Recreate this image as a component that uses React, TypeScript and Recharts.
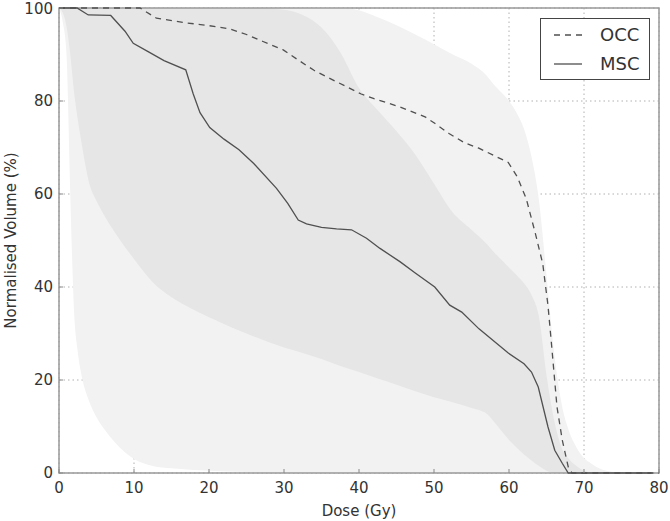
import React from "react";
import {
  ComposedChart,
  Area,
  Line,
  XAxis,
  YAxis,
  CartesianGrid,
  ReferenceArea,
} from "recharts";

// shared dose grid for the shaded envelopes
const bandDose = [0, 0.5, 1, 1.5, 2, 2.5, 3, 4, 5, 6, 7.5, 10, 12.5, 15, 17.5, 20, 25, 30, 32.5, 35, 37.5, 40, 42.5, 45, 47.5, 50, 52.5, 55, 57, 58, 60, 61, 62, 63, 64, 65, 66, 67, 68, 69, 70, 71, 72, 74, 76, 80];
const outerLow = [100, 97, 90, 60, 35, 26, 21, 15.5, 12, 9.5, 6.5, 3, 1.5, 1, 0.7, 0.5, 0.2, 0, 0, 0, 0, 0, 0, 0, 0, 0, 0, 0, 0, 0, 0, 0, 0, 0, 0, 0, 0, 0, 0, 0, 0, 0, 0, 0, 0, 0];
const outerHigh = [100, 100, 100, 100, 100, 100, 100, 100, 100, 100, 100, 100, 100, 100, 100, 100, 100, 100, 100, 100, 100, 99.5, 98, 96.3, 94.3, 92.2, 90, 88, 85.5, 83.5, 80, 77.5, 74, 68, 58.5, 42.5, 26, 15, 9, 5.5, 3.2, 2, 1, 0.2, 0, 0];
const innerLow = [100, 99, 96, 90, 82, 76, 71, 62.5, 58.5, 55.5, 51.6, 46, 41, 37.8, 35.5, 33.5, 30, 27, 25.8, 24.5, 23, 21.7, 20.3, 19, 17.6, 16.3, 15.2, 14, 12.8, 11, 7.1, 5.5, 4, 2.7, 1.5, 0.5, 0, 0, 0, 0, 0, 0, 0, 0, 0, 0];
const innerHigh = [100, 100, 100, 100, 100, 100, 100, 100, 100, 100, 100, 100, 100, 100, 100, 100, 100, 99.6, 98.5, 95.8, 90.5, 82.8, 78, 73.5, 68.5, 62.2, 56, 52.3, 49.3, 47.5, 44.2, 42.6, 40.8, 38.3, 33.5, 21, 11.5, 5.5, 3, 1.5, 0.5, 0.1, 0, 0, 0, 0];

// median curves
const occDose = [0, 10.8, 13, 17, 20, 22.8, 25, 27.2, 29.9, 32, 34, 36.8, 40.3, 42, 45.5, 48.8, 50.1, 52, 54.1, 55.9, 59.9, 61.1, 62.3, 63.5, 64.5, 65.2, 65.7, 66.4, 67.1, 67.9, 68.4, 80];
const occVolume = [100, 100, 97.8, 96.8, 96.2, 95.5, 94.3, 92.8, 91, 88.7, 86.6, 84.3, 81.5, 80.5, 78.7, 76.6, 75.2, 73, 71, 69.9, 66.8, 63.7, 59, 51.6, 45, 36, 27.1, 14.2, 7.1, 1.3, 0, 0];
const mscDose = [0, 2.4, 3.9, 6.9, 8.8, 9.9, 12, 14, 16.9, 17.9, 18.8, 20.1, 22, 24, 26, 29, 30.5, 31.9, 33, 35, 37, 39, 41, 42.8, 45.5, 47.5, 50.1, 52.1, 53.7, 56, 59.9, 62, 63, 63.9, 65.2, 66.1, 67.1, 67.9, 79];
const mscVolume = [100, 100, 98.5, 98.4, 95, 92.4, 90.5, 88.7, 86.7, 81.5, 77.5, 74.3, 71.8, 69.5, 66.5, 61.2, 58, 54.4, 53.6, 52.8, 52.5, 52.3, 50.5, 48.3, 45.4, 43, 40, 36.1, 34.6, 31, 25.8, 23.5, 21.7, 18.5, 9.9, 4.9, 2.1, 0, 0];

const seriesNames = ["OCC", "MSC"];
const xTicks = [0, 10, 20, 30, 40, 50, 60, 70, 80];
const yTicks = [0, 20, 40, 60, 80, 100];

const outerData = bandDose.map((d, i) => ({ dose: d, range: [outerLow[i], outerHigh[i]] }));
const innerData = bandDose.map((d, i) => ({ dose: d, range: [innerLow[i], innerHigh[i]] }));
const occData = occDose.map((d, i) => ({ dose: d, v: occVolume[i] }));
const mscData = mscDose.map((d, i) => ({ dose: d, v: mscVolume[i] }));

const FONT = "'DejaVu Sans', sans-serif";
const TEXT = "#333";
const LINE = "#505050";

function LegendBox() {
  const dashes = ["6 5", undefined];
  return (
    <div
      style={{
        position: "absolute",
        left: 540,
        top: 18,
        width: 110,
        height: 62,
        border: "1px solid #444",
        background: "#fff",
        fontFamily: FONT,
        fontSize: 18,
        color: TEXT,
        boxSizing: "border-box",
        paddingTop: 1,
      }}
    >
      {seriesNames.map((name, i) => (
        <div key={name} style={{ display: "flex", alignItems: "center", height: 29 }}>
          <svg width={59} height={10}>
            <line x1={13} x2={41} y1={5} y2={5} stroke={LINE} strokeWidth={1.3} strokeDasharray={dashes[i]} />
          </svg>
          <span>{name}</span>
        </div>
      ))}
    </div>
  );
}

export default function App() {
  return (
    <div style={{ position: "absolute", left: 0, top: 0, width: 670, height: 521, background: "#fff" }}>
      <ComposedChart width={670} height={521} margin={{ top: 8, right: 11, bottom: 18, left: 0 }}>
        <CartesianGrid stroke="#b0b0b0" strokeDasharray="1.5 3" />
        <XAxis
          dataKey="dose"
          type="number"
          domain={[0, 80]}
          ticks={xTicks}
          allowDuplicatedCategory={false}
          height={30}
          tickSize={-4}
          tickMargin={13}
          tickLine={{ stroke: "#888" }}
          axisLine={false}
          tick={{ fill: TEXT, fontSize: 15, fontFamily: FONT }}
          label={{ value: "Dose (Gy)", position: "bottom", offset: 2, fill: TEXT, fontSize: 15, fontFamily: FONT }}
        />
        <YAxis
          type="number"
          domain={[0, 100]}
          ticks={yTicks}
          width={59}
          tickSize={-4}
          tickMargin={10}
          tickLine={{ stroke: "#888" }}
          axisLine={false}
          tick={{ fill: TEXT, fontSize: 15, fontFamily: FONT }}
          label={{ value: "Normalised Volume (%)", angle: -90, position: "center", dx: -19, fill: TEXT, fontSize: 15, fontFamily: FONT }}
        />
        <Area data={outerData} dataKey="range" type="monotone" stroke="none" fill="#f2f2f2" fillOpacity={1} isAnimationActive={false} />
        <Area data={innerData} dataKey="range" type="monotone" stroke="none" fill="#e6e6e6" fillOpacity={1} isAnimationActive={false} />
        <Line data={occData} dataKey="v" name="OCC" type="linear" stroke={LINE} strokeWidth={1.3} strokeDasharray="6 5" dot={false} isAnimationActive={false} />
        <Line data={mscData} dataKey="v" name="MSC" type="linear" stroke={LINE} strokeWidth={1.3} dot={false} isAnimationActive={false} />
        <ReferenceArea x1={0} x2={80} y1={0} y2={100} fill="none" stroke="#999" strokeWidth={1.5} ifOverflow="visible" />
      </ComposedChart>
      <LegendBox />
    </div>
  );
}
